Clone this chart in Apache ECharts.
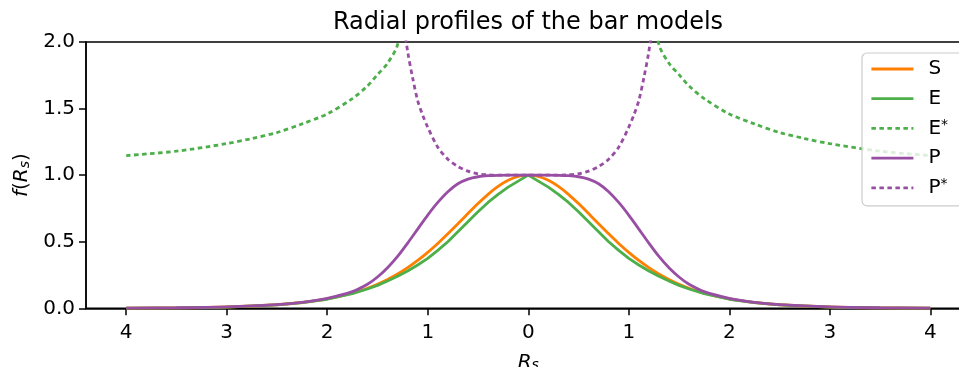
<!DOCTYPE html>
<html>
<head>
<meta charset="utf-8">
<script src="https://cdn.jsdelivr.net/npm/echarts@6/dist/echarts.min.js"></script>
<style>
  html, body { margin: 0; padding: 0; background: #fff; }
  #chart { width: 959px; height: 367px; }
</style>
</head>
<body>
<div id="chart"></div>
<script>
// radial coordinate samples for the S, E and P profiles
const rs = [-4, -3.5, -3, -2.5, -2.25, -2, -1.75, -1.6, -1.5, -1.4, -1.3, -1.2, -1.1, -1, -0.9, -0.8, -0.7, -0.6, -0.5, -0.4, -0.3, -0.2, -0.1,
  0, 0.1, 0.2, 0.3, 0.4, 0.5, 0.6, 0.7, 0.8, 0.9, 1, 1.1, 1.2, 1.3, 1.4, 1.5, 1.6, 1.75, 2, 2.25, 2.5, 3, 3.5, 4];

const sProfile = [0.0013, 0.0036, 0.0099, 0.0266, 0.0435, 0.0707, 0.1138, 0.1506, 0.1807, 0.2162, 0.2574, 0.305, 0.3592, 0.42, 0.4869, 0.5591, 0.6347, 0.7115, 0.7864, 0.856, 0.915, 0.961, 0.990,
  1, 0.990, 0.961, 0.915, 0.856, 0.7864, 0.7115, 0.6347, 0.5591, 0.4869, 0.42, 0.3592, 0.305, 0.2574, 0.2162, 0.1807, 0.1506, 0.1138, 0.0707, 0.0435, 0.0266, 0.0099, 0.0036, 0.0013];

const eProfile = [0.0013, 0.0035, 0.0095, 0.026, 0.042, 0.068, 0.11, 0.145, 0.172, 0.205, 0.24, 0.28, 0.325, 0.375, 0.435, 0.50, 0.575, 0.65, 0.725, 0.795, 0.855, 0.91, 0.955,
  1, 0.955, 0.91, 0.855, 0.795, 0.725, 0.65, 0.575, 0.50, 0.435, 0.375, 0.325, 0.28, 0.24, 0.205, 0.172, 0.145, 0.11, 0.068, 0.042, 0.026, 0.0095, 0.0035, 0.0013];

const pProfile = [0.0015, 0.004, 0.011, 0.028, 0.045, 0.075, 0.125, 0.18, 0.235, 0.305, 0.39, 0.49, 0.595, 0.70, 0.795, 0.875, 0.935, 0.97, 0.988, 0.996, 0.999, 1, 1,
  1, 1, 1, 0.999, 0.996, 0.988, 0.97, 0.935, 0.875, 0.795, 0.70, 0.595, 0.49, 0.39, 0.305, 0.235, 0.18, 0.125, 0.075, 0.045, 0.028, 0.011, 0.004, 0.0015];

// P* only inside the singular radius
const pStarR = [-1.28, -1.25, -1.2, -1.15, -1.1, -1.05, -1, -0.9, -0.8, -0.7, -0.6, -0.5, -0.4, -0.3, -0.2, -0.1,
  0, 0.1, 0.2, 0.3, 0.4, 0.5, 0.6, 0.7, 0.8, 0.9, 1, 1.05, 1.1, 1.15, 1.2, 1.25, 1.28];
const pStarProfile = [2.45, 2.2, 1.93, 1.73, 1.56, 1.45, 1.36, 1.21, 1.12, 1.065, 1.03, 1.01, 1.003, 1, 1, 1,
  1, 1, 1, 1, 1.003, 1.01, 1.03, 1.065, 1.12, 1.21, 1.36, 1.45, 1.56, 1.73, 1.93, 2.2, 2.45];

// E* outside the singular radius, two branches
const eStarLeftR = [-4, -3.5, -3, -2.75, -2.5, -2.25, -2, -1.75, -1.6, -1.5, -1.4, -1.3, -1.25];
const eStarLeft = [1.147, 1.18, 1.237, 1.275, 1.32, 1.385, 1.46, 1.575, 1.67, 1.755, 1.84, 1.98, 2.25];
const eStarRightR = [1.25, 1.3, 1.4, 1.5, 1.6, 1.75, 2, 2.25, 2.5, 2.75, 3, 3.5, 4];
const eStarRight = [2.25, 1.98, 1.84, 1.755, 1.67, 1.575, 1.46, 1.385, 1.32, 1.275, 1.237, 1.18, 1.147];

const xTicks = [-4, -3, -2, -1, 0, 1, 2, 3, 4];

const ORANGE = '#ff7f00', GREEN = '#4daf4a', PURPLE = '#984ea3';
const FONT = 'DejaVu Sans';

const pairs = (xs, ys) => xs.map((x, i) => [x, ys[i]]);

function line(name, xs, ys, color, dotted, smooth) {
  return {
    name: name,
    type: 'line',
    data: pairs(xs, ys),
    symbol: 'none',
    smooth: smooth,
    clip: true,
    lineStyle: { color: color, width: 2.8, type: dotted ? [4.5, 3.5] : 'solid' },
    itemStyle: { color: color },
    emphasis: { disabled: true }
  };
}

const chart = echarts.init(document.getElementById('chart'));
chart.setOption({
  animation: false,
  title: {
    text: 'Radial profiles of the bar models',
    left: 528, top: 11, padding: 0, textAlign: 'center',
    textStyle: { fontFamily: FONT, fontSize: 24, fontWeight: 'normal', color: '#000' }
  },
  grid: {
    left: 86, top: 42, right: -11.5, bottom: 58.7,
    outerBoundsMode: 'none',
    show: true, borderColor: '#000', borderWidth: 1.5
  },
  legend: {
    data: ['S', 'E', 'E*', 'P', 'P*'],
    orient: 'vertical',
    left: 862, top: 53,
    padding: [6, 60, 8, 8],
    itemWidth: 42, itemHeight: 20, itemGap: 9.7,
    backgroundColor: 'rgba(255,255,255,0.8)',
    borderColor: '#cccccc', borderWidth: 1.2, borderRadius: 5,
    itemStyle: { color: 'transparent', opacity: 0, borderWidth: 0 },
    lineStyle: { width: 2.8 },
    formatter: n => n.endsWith('*') ? '{m|' + n[0] + '}{sup|*}' : '{m|' + n + '}',
    textStyle: {
      fontFamily: FONT, fontSize: 20, color: '#000', padding: [0, 0, 0, 10],
      rich: {
        m: { fontFamily: FONT, fontSize: 20, lineHeight: 20, color: '#000' },
        sup: { fontFamily: FONT, fontSize: 14, lineHeight: 10, verticalAlign: 'top', color: '#000' }
      }
    }
  },
  xAxis: {
    type: 'value', min: -4.4, max: 4.4,
    name: '{i|R}{sub|s}', nameLocation: 'middle', nameGap: 44,
    nameTextStyle: {
      rich: {
        i: { fontFamily: FONT, fontStyle: 'italic', fontSize: 20, lineHeight: 20, color: '#000' },
        sub: { fontFamily: FONT, fontStyle: 'italic', fontSize: 14, lineHeight: 8, verticalAlign: 'bottom', color: '#000' }
      }
    },
    axisLine: { onZero: false, lineStyle: { color: '#000', width: 1.5 } },
    axisTick: { length: 7, customValues: xTicks, lineStyle: { color: '#000', width: 1.5 } },
    axisLabel: {
      customValues: xTicks, margin: 14,
      fontFamily: FONT, fontSize: 20, color: '#000',
      formatter: v => String(Math.abs(v))
    },
    splitLine: { show: false }
  },
  yAxis: {
    type: 'value', min: 0, max: 2, interval: 0.5,
    name: '{i|f}{n|(}{i|R}{sub|s}{n|)}', nameLocation: 'middle', nameGap: 54, nameRotate: 90,
    nameTextStyle: {
      rich: {
        i: { fontFamily: FONT, fontStyle: 'italic', fontSize: 20, lineHeight: 20, color: '#000' },
        n: { fontFamily: FONT, fontSize: 20, lineHeight: 20, color: '#000' },
        sub: { fontFamily: FONT, fontStyle: 'italic', fontSize: 14, lineHeight: 8, verticalAlign: 'bottom', color: '#000' }
      }
    },
    axisLine: { show: true, onZero: false, lineStyle: { color: '#000', width: 1.5 } },
    axisTick: { show: true, length: 7, lineStyle: { color: '#000', width: 1.5 } },
    axisLabel: {
      margin: 11, fontFamily: FONT, fontSize: 20, color: '#000',
      formatter: v => v.toFixed(1)
    },
    splitLine: { show: false }
  },
  series: [
    line('S', rs, sProfile, ORANGE, false, 0.3),
    line('E', rs, eProfile, GREEN, false, false),
    line('E*', eStarLeftR, eStarLeft, GREEN, true, 0.3),
    line('E*', eStarRightR, eStarRight, GREEN, true, 0.3),
    line('P', rs, pProfile, PURPLE, false, 0.3),
    line('P*', pStarR, pStarProfile, PURPLE, true, 0.3)
  ]
});
</script>
</body>
</html>
